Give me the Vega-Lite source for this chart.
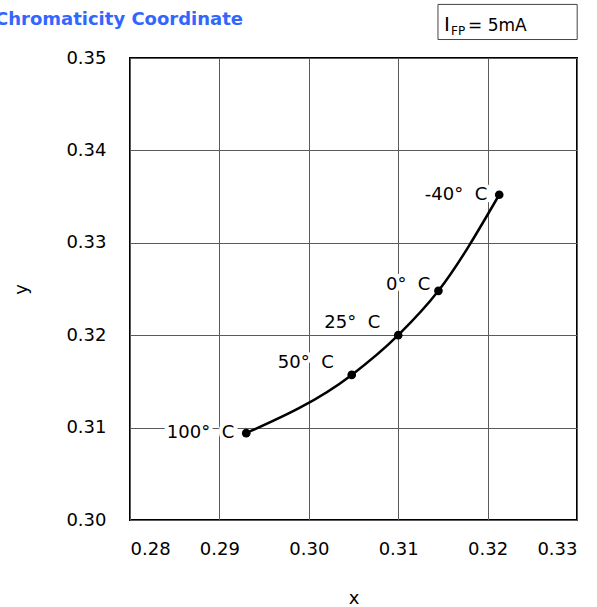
{
  "$schema": "https://vega.github.io/schema/vega-lite/v6.json",
  "autosize": "none",
  "padding": {"left": 130, "top": 58, "right": 20, "bottom": 87},
  "width": 447,
  "height": 462,
  "title": {
    "text": "Chromaticity Coordinate",
    "anchor": "start",
    "frame": "group",
    "dx": -135,
    "font": "DejaVu Sans",
    "fontSize": 18,
    "fontWeight": "bold",
    "color": "#3366ff",
    "offset": -25
  },
  "config": {
    "view": {"stroke": "#000000", "strokeWidth": 2},
    "axis": {
      "domain": false,
      "ticks": false,
      "tickSize": 0,
      "grid": true,
      "gridColor": "#5a5a5a",
      "gridWidth": 1,
      "gridOpacity": 1,
      "labelFont": "DejaVu Sans",
      "labelFontSize": 18,
      "labelColor": "#000000",
      "titleFont": "DejaVu Sans",
      "titleFontSize": 18,
      "titleFontWeight": "normal",
      "titleColor": "#000000"
    }
  },
  "datasets": {
    "pts": [
      {"x": 0.2930, "y": 0.3094, "label": "100°\u00a0\u00a0C"},
      {"x": 0.3048, "y": 0.3157, "label": "50°\u00a0\u00a0C"},
      {"x": 0.3100, "y": 0.3200, "label": "25°\u00a0\u00a0C"},
      {"x": 0.3145, "y": 0.3248, "label": "0°\u00a0\u00a0C"},
      {"x": 0.3213, "y": 0.3352, "label": "-40°\u00a0\u00a0C"}
    ],
    "note": [{"text": "I"}]
  },
  "layer": [
    {
      "data": {"name": "pts"},
      "mark": {"type": "line", "interpolate": "monotone", "color": "#000000", "strokeWidth": 2.5},
      "encoding": {
        "x": {
          "field": "x",
          "type": "quantitative",
          "title": "x",
          "scale": {"domain": [0.28, 0.33], "nice": false, "zero": false},
          "axis": {"values": [0.28, 0.29, 0.30, 0.31, 0.32, 0.33], "format": ".2f", "labelPadding": 20, "titlePadding": 31}
        },
        "y": {
          "field": "y",
          "type": "quantitative",
          "title": "y",
          "scale": {"domain": [0.30, 0.35], "nice": false, "zero": false},
          "axis": {"values": [0.30, 0.31, 0.32, 0.33, 0.34, 0.35], "format": ".2f", "labelPadding": 24, "titlePadding": 35}
        }
      }
    },
    {
      "data": {"name": "pts"},
      "mark": {"type": "circle", "color": "#000000", "opacity": 1, "size": 75},
      "encoding": {"x": {"field": "x", "type": "quantitative"}, "y": {"field": "y", "type": "quantitative"}}
    },
    {
      "data": {"name": "pts"},
      "transform": [{"filter": "datum.label == '-40°\u00a0\u00a0C' || datum.label == '100°\u00a0\u00a0C'"}],
      "encoding": {"x": {"field": "x", "type": "quantitative"}, "y": {"field": "y", "type": "quantitative"}, "text": {"field": "label"}},
      "layer": [
        {"mark": {"type": "text", "align": "right", "baseline": "middle", "dx": -12, "dy": 0, "font": "DejaVu Sans", "fontSize": 18, "stroke": "#ffffff", "strokeWidth": 8, "fill": "#ffffff"}},
        {"mark": {"type": "text", "align": "right", "baseline": "middle", "dx": -12, "dy": 0, "font": "DejaVu Sans", "fontSize": 18, "color": "#000000"}}
      ]
    },
    {
      "data": {"name": "pts"},
      "transform": [{"filter": "datum.label == '0°\u00a0\u00a0C'"}],
      "encoding": {"x": {"field": "x", "type": "quantitative"}, "y": {"field": "y", "type": "quantitative"}, "text": {"field": "label"}},
      "layer": [
        {"mark": {"type": "text", "align": "right", "baseline": "middle", "dx": -8, "dy": -6, "font": "DejaVu Sans", "fontSize": 18, "stroke": "#ffffff", "strokeWidth": 8, "fill": "#ffffff"}},
        {"mark": {"type": "text", "align": "right", "baseline": "middle", "dx": -8, "dy": -6, "font": "DejaVu Sans", "fontSize": 18, "color": "#000000"}}
      ]
    },
    {
      "data": {"name": "pts"},
      "transform": [{"filter": "datum.label == '25°\u00a0\u00a0C' || datum.label == '50°\u00a0\u00a0C'"}],
      "encoding": {"x": {"field": "x", "type": "quantitative"}, "y": {"field": "y", "type": "quantitative"}, "text": {"field": "label"}},
      "layer": [
        {"mark": {"type": "text", "align": "right", "baseline": "middle", "dx": -18, "dy": -12, "font": "DejaVu Sans", "fontSize": 18, "stroke": "#ffffff", "strokeWidth": 8, "fill": "#ffffff"}},
        {"mark": {"type": "text", "align": "right", "baseline": "middle", "dx": -18, "dy": -12, "font": "DejaVu Sans", "fontSize": 18, "color": "#000000"}}
      ]
    },
    {
      "data": {"name": "note"},
      "mark": {"type": "rect", "fill": "#ffffff", "stroke": "#444444", "strokeWidth": 1, "clip": false},
      "encoding": {
        "x": {"datum": 0.31445, "type": "quantitative"},
        "x2": {"datum": 0.33002},
        "y": {"datum": 0.3558, "type": "quantitative"},
        "y2": {"datum": 0.3520}
      }
    },
    {
      "data": {"name": "note"},
      "mark": {"type": "text", "text": "I", "align": "left", "baseline": "alphabetic", "dx": 6, "font": "DejaVu Sans", "fontSize": 20, "color": "#000000", "clip": false},
      "encoding": {"x": {"datum": 0.31445, "type": "quantitative"}, "y": {"datum": 0.35287, "type": "quantitative"}}
    },
    {
      "data": {"name": "note"},
      "mark": {"type": "text", "text": "FP", "align": "left", "baseline": "alphabetic", "dx": 13, "dy": 4, "font": "DejaVu Sans", "fontSize": 12, "color": "#000000", "clip": false},
      "encoding": {"x": {"datum": 0.31445, "type": "quantitative"}, "y": {"datum": 0.35287, "type": "quantitative"}}
    },
    {
      "data": {"name": "note"},
      "mark": {"type": "text", "text": "= 5mA", "align": "left", "baseline": "alphabetic", "dx": 30, "font": "DejaVu Sans", "fontSize": 17, "color": "#000000", "clip": false},
      "encoding": {"x": {"datum": 0.31445, "type": "quantitative"}, "y": {"datum": 0.35287, "type": "quantitative"}}
    }
  ]
}
